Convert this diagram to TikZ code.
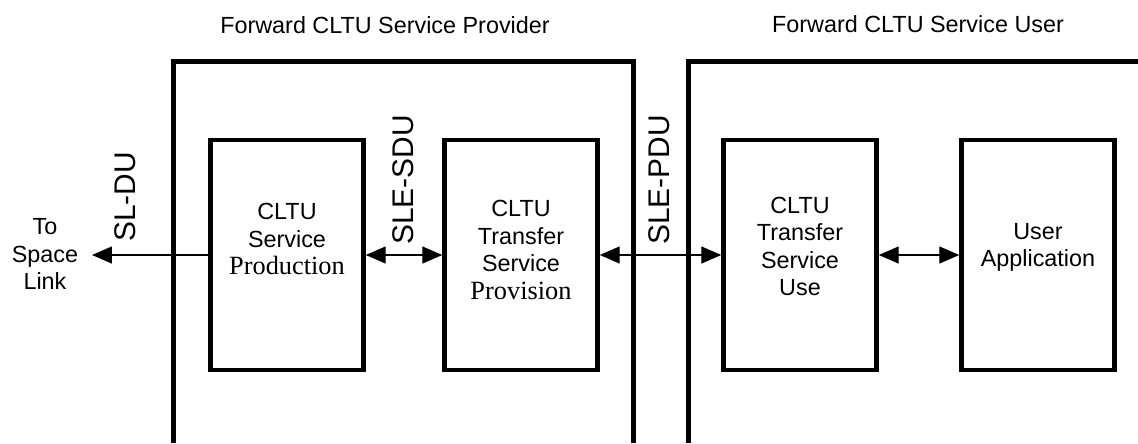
\documentclass[tikz,border=0pt]{standalone}
\usepackage{fontspec}
\setmainfont{Liberation Sans}
\newfontfamily\serifpart{Liberation Serif}
\usetikzlibrary{arrows.meta, positioning}
\tikzset{
  blk/.style = {draw, line width=0.09cm, minimum width=3.06cm, minimum height=4.6cm, inner sep=0pt},
  txt/.style = {align=center, inner sep=1pt, font=\fontsize{13.3}{15.6}\selectfont},
  unit/.style = {rotate=90, inner sep=1pt, font=\fontsize{17}{20}\selectfont},
  wall/.style = {line width=0.1cm},
  link/.style = {line width=0.8pt, -{Triangle[length=0.4cm, width=0.34cm]}},
  duplex/.style = {line width=0.8pt, {Triangle[length=0.4cm, width=0.34cm]}-{Triangle[length=0.4cm, width=0.34cm]}}
}
\newcommand{\srf}[1]{{\serifpart\fontsize{15}{15.6}\selectfont #1}}

\begin{document}
\begin{tikzpicture}[x=0.02cm, y=-0.02cm]
\useasboundingbox (0,0) rectangle (1138,443);
% frames, open at the bottom
\draw [wall] (173,443) -- (173,61) -- (633,61) -- (633,443);
\draw [wall] (1138,61) -- (688,61) -- (688,443);
\node [txt] (provider) at (385,25) {Forward CLTU Service Provider};
\node [txt] (user) at (918,24) {Forward CLTU Service User};
% blocks
\node [blk] (prod) at (287,255) {};
\node [blk] (prov) at (521,255) {};
\node [blk] (use) at (800,255) {};
\node [blk] (app) at (1038,255) {};
\node [txt] (prodtxt) at ([yshift=0.32cm]prod.center) {CLTU\\Service\\\srf{Production}};
\node [txt] (provtxt) at ([yshift=0.1cm]prov.center) {CLTU\\Transfer\\Service\\\srf{Provision}};
\node [txt] (usetxt) at ([yshift=0.17cm]use.center) {CLTU\\Transfer\\Service\\Use};
\node [txt] (apptxt) at ([yshift=0.15cm]app.center) {User\\Application};
\node [txt] (space) at (45,254) {To\\Space\\Link};
\coordinate (sltip) at (92,255);
% data units
\node [unit] (sldu) at (125,197) {SL-DU};
\node [unit] (sdu) at (403,180) {SLE-SDU};
\node [unit] (pdu) at (659,180) {SLE-PDU};
% connectors
\draw [link] (prod.west) -- (sltip);
\draw [duplex] (prod.east) -- (prov.west);
\draw [duplex] (prov.east) -- (use.west);
\draw [duplex] (use.east) -- (app.west);
\end{tikzpicture}
\end{document}
